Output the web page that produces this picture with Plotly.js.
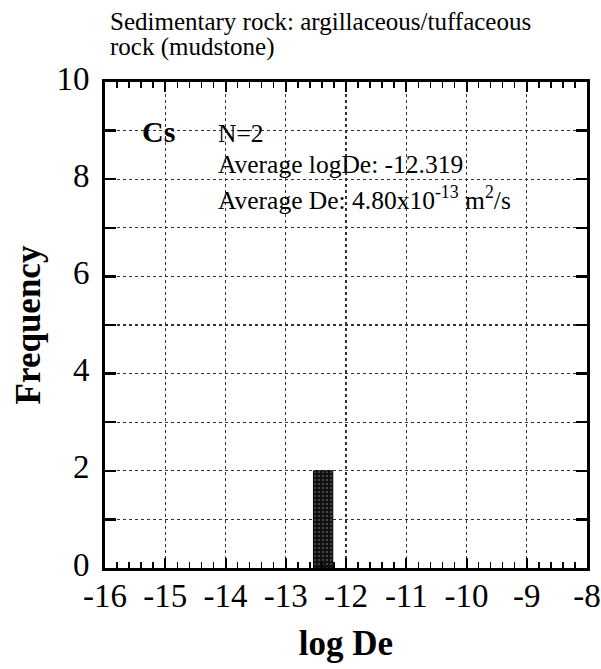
<!DOCTYPE html>
<html>
<head>
<meta charset="utf-8">
<script src="https://cdn.plot.ly/plotly-3.0.1.min.js"></script>
<style>html,body{margin:0;padding:0;background:#fff;}#chart{width:601px;height:669px;}</style>
</head>
<body>
<div id="chart"></div>
<script>
// Data
var binCenters = [-12.38];
var binWidths = [0.32];
var frequencies = [2];
var xTickVals = [-16, -15, -14, -13, -12, -11, -10, -9, -8];
var xTickText = ["-16", "-15", "-14", "-13", "-12", "-11", "-10", "-9", "-8"];
var yTickVals = [0, 2, 4, 6, 8, 10];
var yTickText = ["0", "2", "4", "6", "8", "10"];
var titleLines = ["Sedimentary rock: argillaceous/tuffaceous", "rock (mudstone)"];
var elementLabel = "Cs";
var statLines = ["N=2", "Average logDe: -12.319", "Average De: 4.80x10<sup>-13</sup> m<sup>2</sup>/s"];
var statY = [8.95, 8.3, 7.6];

var serif = "Liberation Serif, Times New Roman, serif";

var trace = {
  type: "bar",
  x: binCenters,
  y: frequencies,
  width: binWidths,
  marker: {
    color: "#111",
    line: {color: "#000", width: 1},
    pattern: {shape: ".", fgcolor: "#8a8a8a", bgcolor: "#111", size: 4, solidity: 0.12}
  },
  hoverinfo: "skip"
};

var annotations = [{
  xref: "paper", yref: "paper", x: 3 / 482, y: 1 + 35 / 486, text: titleLines[1],
  showarrow: false, xanchor: "left", yanchor: "middle",
  font: {family: serif, size: 25, color: "#000"}
}, {
  xref: "x", yref: "y", x: -15.42, y: 8.98, text: "<b>" + elementLabel + "</b>",
  showarrow: false, xanchor: "left", yanchor: "middle",
  font: {family: serif, size: 30, color: "#000"}
}];
for (var i = 0; i < statLines.length; i++) {
  annotations.push({
    xref: "x", yref: "y", x: -14.16, y: statY[i], text: statLines[i],
    showarrow: false, xanchor: "left", yanchor: "middle",
    font: {family: serif, size: 25.5, color: "#000"}
  });
}

var layout = {
  width: 601, height: 669,
  margin: {l: 105, r: 14, t: 82, b: 101},
  paper_bgcolor: "#fff", plot_bgcolor: "#fff",
  showlegend: false,
  title: {
    text: titleLines[0], x: 110 / 601, xanchor: "left", xref: "container",
    y: 1 - 21 / 669, yanchor: "middle", yref: "container",
    font: {family: serif, size: 25, color: "#000"}
  },
  xaxis: {
    range: [-16, -8],
    tickmode: "array", tickvals: xTickVals, ticktext: xTickText,
    ticklabeloverflow: "allow", ticklabelstandoff: -4,
    ticks: "inside", ticklen: 10, tickwidth: 2, tickcolor: "#000",
    minor: {dtick: 0.2, ticks: "inside", ticklen: 6, tickwidth: 1.5, tickcolor: "#000", showgrid: false},
    showline: true, linewidth: 3, linecolor: "#000", mirror: "allticks",
    showgrid: true, gridcolor: "#333", gridwidth: 1.2, griddash: "dot",
    zeroline: false,
    tickfont: {family: serif, size: 33, color: "#000"},
    title: {text: "<b>log De</b>", font: {family: serif, size: 35, color: "#000"}, standoff: 18}
  },
  yaxis: {
    range: [0, 10],
    tickmode: "array", tickvals: yTickVals, ticktext: yTickText,
    ticklabeloverflow: "allow", ticklabelstandoff: 6, ticklabelshift: -4,
    ticks: "inside", ticklen: 11, tickwidth: 2.5, tickcolor: "#000",
    minor: {tick0: 0, dtick: 1, ticks: "inside", ticklen: 11, tickwidth: 2.5, tickcolor: "#000",
            showgrid: true, gridcolor: "#333", gridwidth: 1.2, griddash: "dot"},
    showline: true, linewidth: 3, linecolor: "#000", mirror: "allticks",
    showgrid: true, gridcolor: "#333", gridwidth: 1.2, griddash: "dot",
    zeroline: false,
    tickfont: {family: serif, size: 33, color: "#000"},
    title: {text: "<b>Frequency</b>", font: {family: serif, size: 35, color: "#000"}, standoff: 6}
  },
  annotations: annotations
};

Plotly.newPlot("chart", [trace], layout, {displayModeBar: false, staticPlot: true});
</script>
</body>
</html>
